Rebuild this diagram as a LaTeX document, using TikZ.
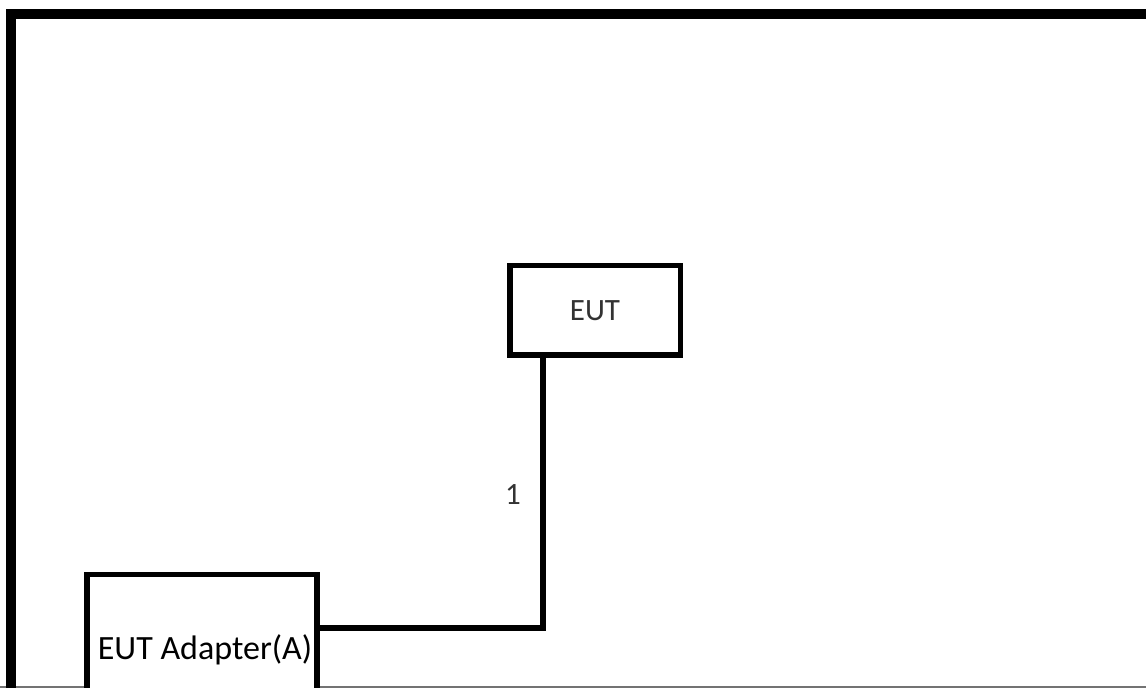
\documentclass[tikz,border=0pt]{standalone}
\usepackage{fontspec}
\setmainfont{Carlito}
\begin{document}
\begin{tikzpicture}[x=1pt,y=1pt,
  box/.style={draw, line width=5.5pt, inner sep=0pt, fill=white},
  lbl/.style={font=\fontsize{31}{36}\selectfont, text=black!80},
  wire/.style={line width=5.5pt}]
\useasboundingbox (0,0) rectangle (1146,688);
\clip (0,0) rectangle (1146,688);
\fill[white] (0,0) rectangle (1146,688);
% outer frame
\draw[black!55, line width=1.5pt] (0,1) -- (1146,1);
\draw[line width=10pt] (11,-20) -- (11,674) -- (1170,674);
% nodes
\node[box, minimum width=170.5pt, minimum height=89.5pt, lbl] (eut) at (595,377.5) {EUT};
\node[box, minimum width=230pt, minimum height=151.5pt] (adapter) at (202,37.75) {};
\node[font=\fontsize{34}{40}\selectfont] (adlabel) at (205,38) {EUT Adapter(A)};
% connector
\coordinate (bend) at (543,60);
\draw[wire] (eut.south -| bend) -- (bend) -- (adapter.east |- bend);
\node[lbl] (one) at (513,193.5) {1};
\end{tikzpicture}
\end{document}
